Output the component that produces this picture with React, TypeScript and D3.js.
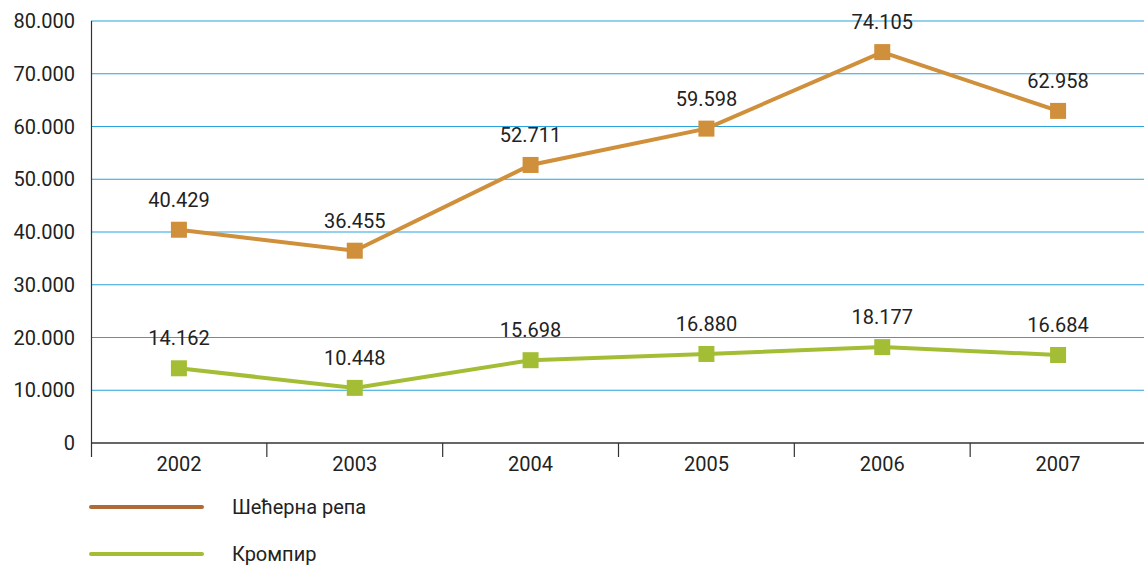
import React, { useRef, useEffect } from 'react';
import * as d3 from 'd3';

const years = ['2002', '2003', '2004', '2005', '2006', '2007'];
const secernaRepa = [40429, 36455, 52711, 59598, 74105, 62958];
const krompir = [14162, 10448, 15698, 16880, 18177, 16684];
const yTicks = [0, 10000, 20000, 30000, 40000, 50000, 60000, 70000, 80000];
const seriesNames = ['Шећерна репа', 'Кромпир'];

const fmt = (v: number) => (v === 0 ? '0' : d3.format(',')(v).replace(/,/g, '.'));

const App: React.FC = () => {
  const ref = useRef<SVGSVGElement>(null);

  useEffect(() => {
    const svg = d3.select(ref.current);
    svg.selectAll('*').remove();
    const font = 'Roboto, "DejaVu Sans", sans-serif';

    const x = d3.scaleBand().domain(years).range([91, 1146]);
    const y = d3.scaleLinear().domain([0, 80000]).range([443, 21]);

    // gridlines
    svg.append('g')
      .selectAll('line')
      .data(yTicks.filter(t => t > 0))
      .join('line')
      .attr('x1', 91).attr('x2', 1144)
      .attr('y1', d => y(d)).attr('y2', d => y(d))
      .attr('stroke', '#29a3dd').attr('stroke-width', 1.2);

    // y labels
    svg.append('g')
      .selectAll('text')
      .data(yTicks)
      .join('text')
      .attr('x', 75).attr('y', d => y(d))
      .attr('dy', '0.35em')
      .attr('text-anchor', 'end')
      .attr('font-family', font).attr('font-size', 20).attr('fill', '#222')
      .text(d => fmt(d));

    // axes lines
    svg.append('line').attr('x1', 91.5).attr('x2', 91.5).attr('y1', 21).attr('y2', 457)
      .attr('stroke', '#333').attr('stroke-width', 1.2);
    svg.append('line').attr('x1', 91).attr('x2', 1144).attr('y1', 443).attr('y2', 443)
      .attr('stroke', '#333').attr('stroke-width', 1.5);
    svg.append('g')
      .selectAll('line')
      .data(years.slice(1))
      .join('line')
      .attr('x1', d => x(d)!).attr('x2', d => x(d)!)
      .attr('y1', 443).attr('y2', 457)
      .attr('stroke', '#333').attr('stroke-width', 1.2);

    svg.append('g')
      .selectAll('text')
      .data(years)
      .join('text')
      .attr('x', d => x(d)! + x.bandwidth() / 2).attr('y', 471)
      .attr('text-anchor', 'middle')
      .attr('font-family', font).attr('font-size', 20).attr('fill', '#222')
      .text(d => d);

    const series = [
      { values: secernaRepa, color: '#d08f3a', legend: '#b06a35' },
      { values: krompir, color: '#a3be35', legend: '#a3be35' },
    ];

    const line = d3.line<number>()
      .x((_, i) => x(years[i])! + x.bandwidth() / 2)
      .y(d => y(d));

    series.forEach((s, si) => {
      svg.append('path')
        .datum(s.values)
        .attr('fill', 'none')
        .attr('stroke', s.color)
        .attr('stroke-width', 4)
        .attr('d', line);

      const g = svg.append('g');
      g.selectAll('rect')
        .data(s.values)
        .join('rect')
        .attr('x', (_, i) => x(years[i])! + x.bandwidth() / 2 - 8)
        .attr('y', d => y(d) - 8)
        .attr('width', 16).attr('height', 16)
        .attr('fill', s.color);

      g.selectAll('text')
        .data(s.values)
        .join('text')
        .attr('x', (_, i) => x(years[i])! + x.bandwidth() / 2)
        .attr('y', d => y(d) - 23)
        .attr('text-anchor', 'middle')
        .attr('font-family', font).attr('font-size', 20).attr('fill', '#222')
        .text(d => fmt(d));

      // legend
      const ly = 507 + si * 47;
      svg.append('line')
        .attr('x1', 91).attr('x2', 202)
        .attr('y1', ly).attr('y2', ly)
        .attr('stroke', s.legend).attr('stroke-width', 4).attr('stroke-linecap', 'round');
      svg.append('text')
        .attr('x', 232).attr('y', ly).attr('dy', '0.35em')
        .attr('font-family', font).attr('font-size', 20).attr('fill', '#222')
        .text(seriesNames[si]);
    });
  }, []);

  return (
    <svg ref={ref} width={1144} height={566} style={{ position: 'absolute', left: 0, top: 0 }}></svg>
  );
};

export default App;
